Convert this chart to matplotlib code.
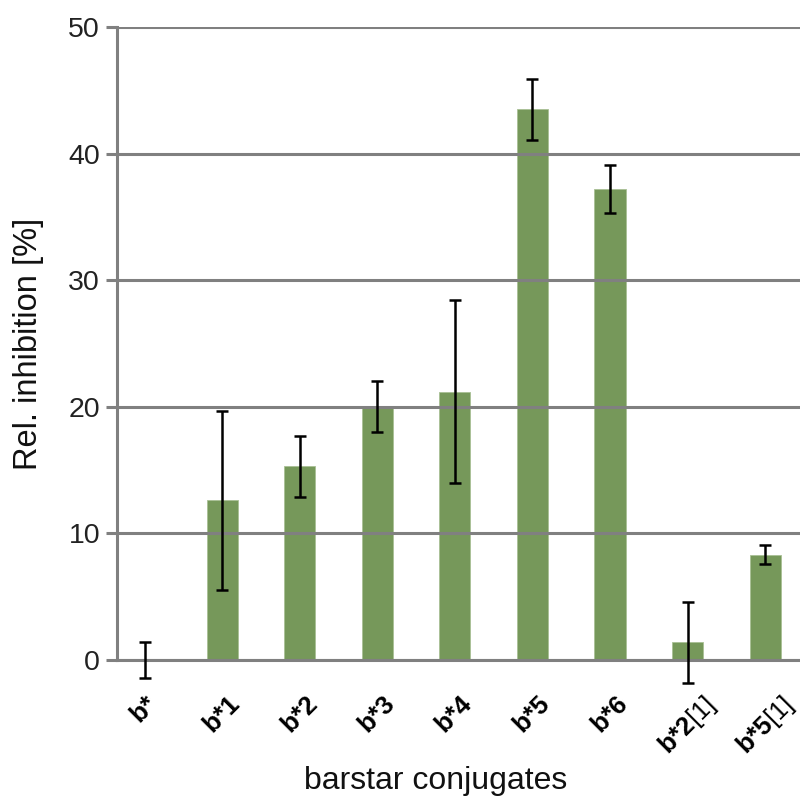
import numpy as np
import matplotlib
matplotlib.use('Agg')
import matplotlib.pyplot as plt

plt.rcParams['font.family'] = ['Liberation Sans', 'DejaVu Sans']
plt.rcParams['mathtext.fontset'] = 'custom'
plt.rcParams['mathtext.rm'] = 'Liberation Sans'
plt.rcParams['mathtext.bf'] = 'Liberation Sans:bold'

# ---------------------------------------------------------------------------
# Data
# ---------------------------------------------------------------------------
conjugates = ['b*', 'b*1', 'b*2', 'b*3', 'b*4', 'b*5', 'b*6', 'b*2', 'b*5']
suffixes = ['', '', '', '', '', '', '', '[1]', '[1]']
inhibition = [0.0, 12.6, 15.3, 20.0, 21.2, 43.5, 37.2, 1.4, 8.3]
errors = [1.4, 7.1, 2.4, 2.0, 7.2, 2.4, 1.9, 3.2, 0.75]

bar_color = '#76985A'
grid_color = '#808080'

# build labels: bold name, regular suffix
labels = []
for name, suf in zip(conjugates, suffixes):
    bold = name.replace('*', '{*}')
    labels.append(r'$\mathbf{' + bold + '}$' + suf)

x = np.arange(len(conjugates))

fig = plt.figure(figsize=(8.0, 7.96), dpi=100)
ax = fig.add_axes([0.146, 0.171, 0.854, 0.795])

ax.bar(x, inhibition, width=0.4, color=bar_color, edgecolor='#A9C095',
       linewidth=0.6, zorder=1)
ax.errorbar(x, inhibition, yerr=errors, fmt='none', ecolor='black',
            elinewidth=1.8, capsize=4, capthick=1.8, zorder=4, clip_on=False)

ax.set_ylim(0, 50)
ax.set_xlim(-0.36, 8.45)
ax.set_yticks([0, 10, 20, 30, 40, 50])
ax.yaxis.grid(True, color=grid_color, linewidth=2.2, zorder=2)
ax.set_axisbelow(False)

for s in ['top', 'right']:
    ax.spines[s].set_visible(False)
ax.spines['left'].set_color(grid_color)
ax.spines['left'].set_linewidth(2.2)
ax.spines['bottom'].set_color(grid_color)
ax.spines['bottom'].set_linewidth(2.2)

ax.tick_params(axis='y', direction='out', length=8, width=2.2, color=grid_color,
               labelsize=20.5, labelcolor='#222222', pad=4)
ax.tick_params(axis='x', length=0, pad=23, labelsize=18.5)
ax.set_xticks(x)
ax.set_xticklabels(labels, rotation=45, ha='center', va='top')

ax.set_ylabel('Rel. inhibition [%]', fontsize=23.5, color='#111111')
ax.yaxis.set_label_coords(-0.107, 0.5)
fig.text(436 / 800, 7 / 796, 'barstar conjugates', fontsize=23, ha='center',
         va='baseline', color='#111111')

plt.savefig('out.png', dpi=100)
